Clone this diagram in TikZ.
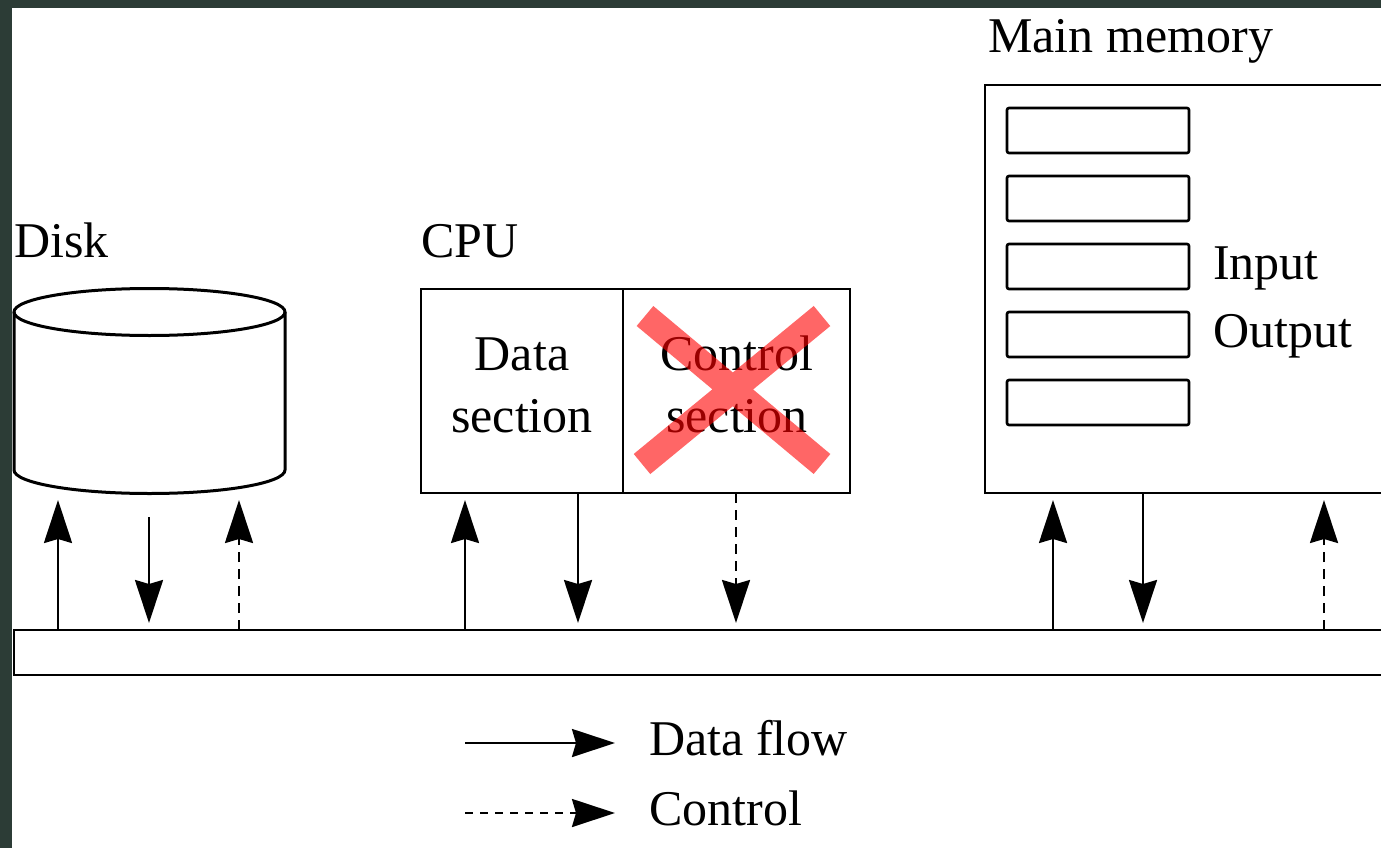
\documentclass[tikz,border=0pt]{standalone}
\usepackage{fontspec}
\setmainfont{Liberation Serif}
\usetikzlibrary{arrows.meta}
\definecolor{framegreen}{RGB}{44,60,54}
\definecolor{crossred}{RGB}{255,0,0}
\begin{document}
\begin{tikzpicture}[x=1pt,y=-1pt,line width=2.6pt,
  lbl/.style={font=\fontsize{50}{62}\selectfont,inner sep=0pt},
  box/.style={draw,inner sep=0pt,outer sep=0pt},
  slot/.style={box,rounded corners=2pt,minimum width=182pt,minimum height=45pt,anchor=north west},
  flow/.style={-{Stealth[length=43pt,width=28pt,inset=4pt]},line width=2.4pt},
  ctrl/.style={flow,dash pattern=on 10pt off 7pt},
  cross/.style={draw=crossred,draw opacity=0.6,line width=26pt,line cap=butt}]
% canvas with the dark frame on the top and left
\useasboundingbox (0,0) rectangle (1381,848);
\fill[framegreen] (0,0) rectangle (1381,848);
\fill[white] (12,8) rectangle (1381,848);
\clip (12,8) rectangle (1381,848);

% system bus
\node[box,anchor=north west,minimum width=1420pt,minimum height=45pt] (bus) at (14,630) {};

% disk
\node[lbl,anchor=base west] (disklbl) at (13,257) {Disk};
\coordinate (disktop) at (149.5,312);
\draw[line width=3pt] (14,312) -- (14,470) arc[start angle=180,end angle=0,x radius=135.5,y radius=23.5] -- (285,312);
\draw[line width=3pt] (disktop) ellipse [x radius=135.5,y radius=23.5];

% CPU
\node[lbl,anchor=base west] (cpulbl) at (420,257) {CPU};
\node[box,anchor=north west,minimum width=202pt,minimum height=204pt] (datasec) at (421,289) {};
\node[box,anchor=north west,minimum width=227pt,minimum height=204pt] (ctrlsec) at (623,289) {};
\node[lbl,anchor=base] (data1) at (522,370) {Data};
\node[lbl,anchor=base] (data2) at (522,432) {section};
\node[lbl,anchor=base] (ctrl1) at (737,370) {Control};
\node[lbl,anchor=base] (ctrl2) at (737,432) {section};
\path[cross] (645,316) -- (822,464) (642,464) -- (822,316);

% main memory
\node[lbl,anchor=base west] (memlbl) at (987,53) {Main memory};
\node[box,anchor=north west,minimum width=500pt,minimum height=408pt] (mem) at (985,85) {};
\foreach \k in {0,...,4}
  \node[slot] (slot\k) at (1007,108+68*\k) {};
\node[lbl,anchor=base west] (inlbl) at (1212,279) {Input};
\node[lbl,anchor=base west] (outlbl) at (1212,347) {Output};

% arrow ends
\coordinate (d1) at (58,500);
\coordinate (d2a) at (149,517);
\coordinate (d2) at (149,623);
\coordinate (d3) at (239,500);
\coordinate (c1) at (465,500);
\coordinate (c2) at (578,623);
\coordinate (c3) at (736,623);
\coordinate (m1) at (1053,500);
\coordinate (m2) at (1143,623);
\coordinate (m3) at (1324,500);

% disk traffic
\draw[flow] (bus.north -| d1) -- (d1);
\draw[flow] (d2a) -- (d2);
\draw[ctrl] (bus.north -| d3) -- (d3);
% CPU traffic
\draw[flow] (bus.north -| c1) -- (c1);
\draw[flow] (datasec.south -| c2) -- (c2);
\draw[ctrl] (ctrlsec.south -| c3) -- (c3);
% memory traffic
\draw[flow] (bus.north -| m1) -- (m1);
\draw[flow] (mem.south -| m2) -- (m2);
\draw[ctrl] (bus.north -| m3) -- (m3);

% legend
\coordinate (ls1) at (465,743);
\coordinate (le1) at (615,743);
\coordinate (ls2) at (465,813);
\coordinate (le2) at (615,813);
\draw[flow] (ls1) -- (le1);
\draw[ctrl,dash pattern=on 8pt off 7pt] (ls2) -- (le2);
\node[lbl,anchor=base west] (legdata) at (648,755) {Data flow};
\node[lbl,anchor=base west] (legctrl) at (648,825) {Control};
\end{tikzpicture}
\end{document}
